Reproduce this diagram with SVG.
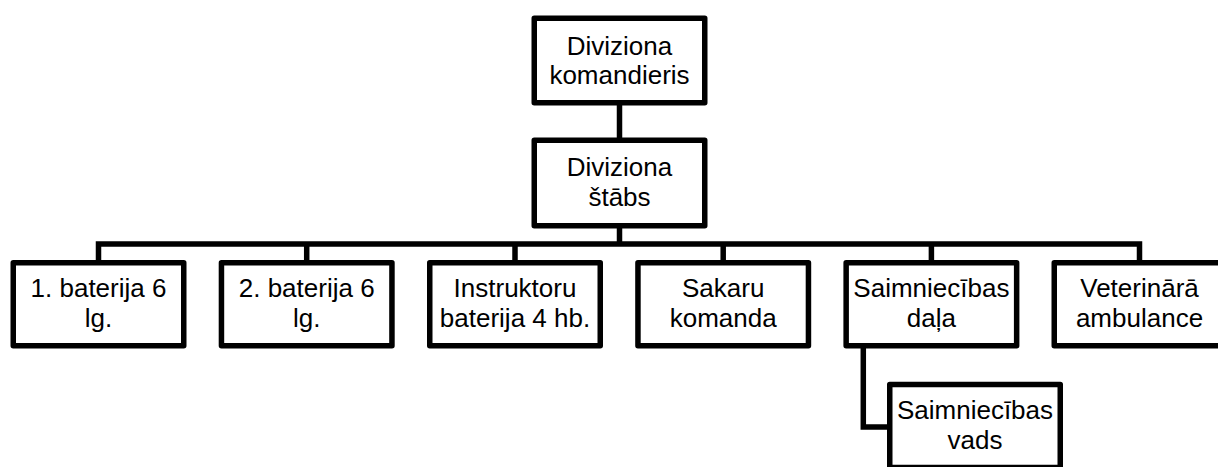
<svg xmlns="http://www.w3.org/2000/svg" width="1218" height="467" viewBox="0 0 1218 467">
<style>
.box{fill:#fff;stroke:#000;stroke-width:5.5;stroke-linejoin:round}
.con{fill:none;stroke:#000;stroke-width:5.5;stroke-linejoin:miter}
text{font-family:"Liberation Sans",Arial,sans-serif;font-size:26px;fill:#000;text-anchor:middle}
</style>
<rect width="1218" height="467" fill="#fff"/>
<g id="connectors">
<path class="con" d="M619.5,105 V140"/>
<path class="con" d="M619.5,228 V244"/>
<path class="con" d="M98.5,263 V244 H1139.5 V263"/>
<path class="con" d="M306.7,244 V263"/>
<path class="con" d="M515,244 V263"/>
<path class="con" d="M723.2,244 V263"/>
<path class="con" d="M931.4,244 V263"/>
<path class="con" d="M863.3,345 V427 H887"/>
</g>
<g id="n-komandieris">
<rect class="box" x="534.25" y="18.25" width="170.5" height="84.5"/>
<text x="619.5" y="54.5">Diviziona</text>
<text x="619.5" y="84">komandieris</text>
</g>
<g id="n-stabs">
<rect class="box" x="534.25" y="140.25" width="170.5" height="85.5"/>
<text x="619.5" y="176">Diviziona</text>
<text x="619.5" y="206">štābs</text>
</g>
<g id="n-bat1">
<rect class="box" x="13.25" y="262.75" width="170.5" height="83"/>
<text x="98.5" y="297">1. baterija 6</text>
<text x="98.5" y="327">lg.</text>
</g>
<g id="n-bat2">
<rect class="box" x="221.45" y="262.75" width="170.5" height="83"/>
<text x="306.7" y="297">2. baterija 6</text>
<text x="306.7" y="327">lg.</text>
</g>
<g id="n-instr">
<rect class="box" x="429.75" y="262.75" width="170.5" height="83"/>
<text x="515" y="297">Instruktoru</text>
<text x="515" y="327">baterija 4 hb.</text>
</g>
<g id="n-sakaru">
<rect class="box" x="637.95" y="262.75" width="170.5" height="83"/>
<text x="723.2" y="297">Sakaru</text>
<text x="723.2" y="327">komanda</text>
</g>
<g id="n-saimn-dala">
<rect class="box" x="846.15" y="262.75" width="170.5" height="83"/>
<text x="931.4" y="297">Saimniecības</text>
<text x="931.4" y="327">daļa</text>
</g>
<g id="n-vet">
<rect class="box" x="1054.25" y="262.75" width="170.5" height="83"/>
<text x="1139.5" y="297">Veterinārā</text>
<text x="1139.5" y="327">ambulance</text>
</g>
<g id="n-saimn-vads">
<rect class="box" x="889.75" y="384.5" width="170.5" height="83"/>
<text x="975" y="419">Saimniecības</text>
<text x="975" y="449">vads</text>
</g>
</svg>
